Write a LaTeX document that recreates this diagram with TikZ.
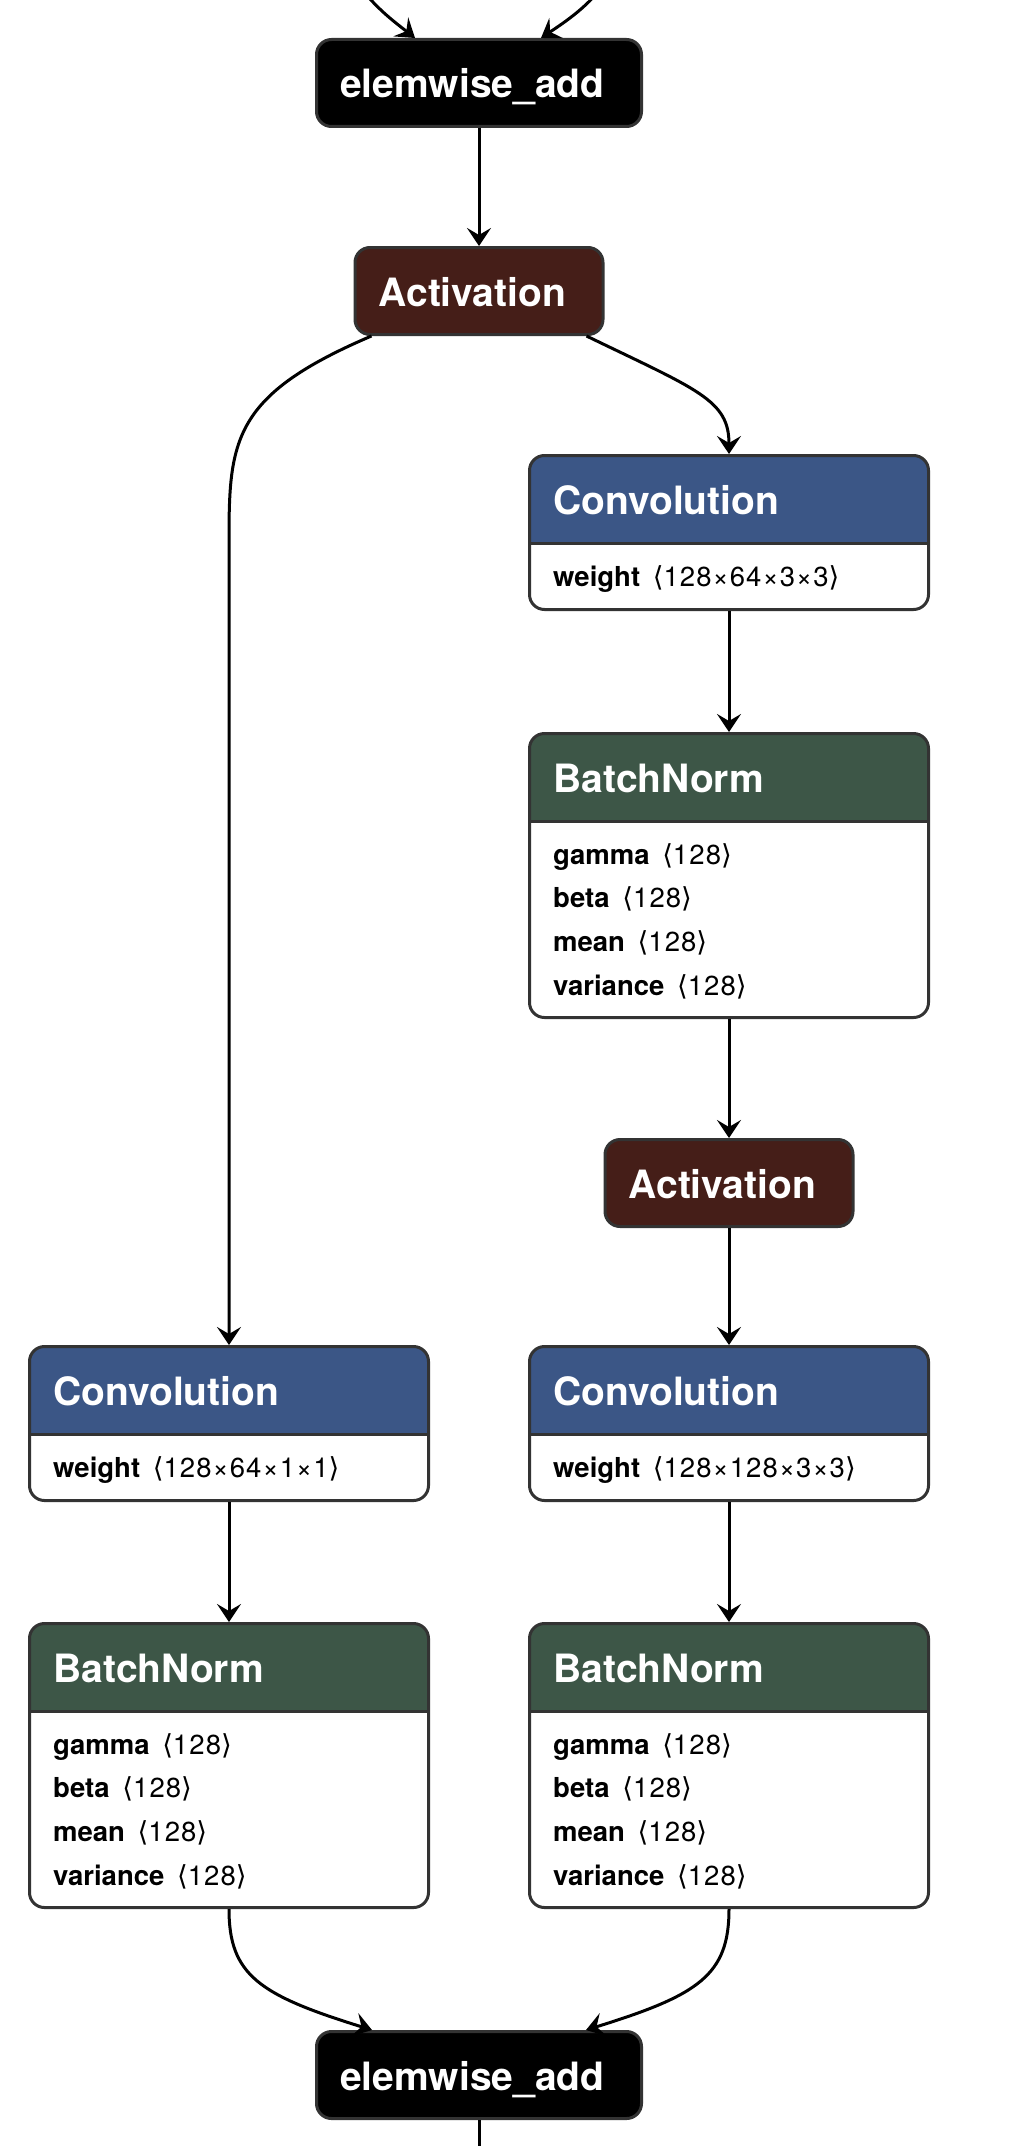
\documentclass[tikz,border=0pt]{standalone}
\usepackage{fontspec}
\setmainfont{TeX Gyre Heros}
\newfontfamily\symf{DejaVu Sans}
\newfontfamily\valf[LetterSpace=4]{TeX Gyre Heros}
\usetikzlibrary{arrows.meta}

\definecolor{convcol}{RGB}{59,86,134}
\definecolor{bncol}{RGB}{61,86,71}
\definecolor{actcol}{RGB}{69,30,24}
\definecolor{bordercol}{RGB}{51,51,51}

\newcommand{\dims}[1]{\hspace{5pt}{\symf ⟨}{\valf #1}{\symf ⟩}}

\begin{document}
\begin{tikzpicture}[x=1pt,y=-1pt,
	edge/.style={line width=3pt,-{Stealth[length=18pt,width=24pt,inset=7pt]}},
	op/.style={draw=bordercol,line width=3pt,rounded corners=15pt,fill=#1,minimum height=87pt,anchor=north,inner sep=0pt},
	layer/.style={draw=bordercol,line width=3pt,rounded corners=15pt,fill=white,minimum width=399pt,anchor=north,inner sep=0pt,
		path picture={\fill[#1,sharp corners] (path picture bounding box.north west) rectangle ([yshift=-87.5pt]path picture bounding box.north east);
			\draw[bordercol,line width=3pt,sharp corners] ([yshift=-87.5pt]path picture bounding box.north west) -- ([yshift=-87.5pt]path picture bounding box.north east);}},
	title/.style={anchor=base west,text=white,font=\fontsize{39}{47}\selectfont\bfseries,inner sep=0pt},
	attr/.style={anchor=base west,font=\fontsize{27.5}{33}\selectfont,inner sep=0pt}]
	\useasboundingbox (0,0) rectangle (1020,2146);
	% blocks
	\node[op=black, minimum width=325pt] (add1) at (479,38) {};
	\node[op=actcol, minimum width=248pt] (act1) at (479,246) {};
	\node[layer=convcol, minimum height=154pt] (conv1) at (729,454) {};
	\node[layer=bncol, minimum height=284pt] (bn1) at (729,732) {};
	\node[op=actcol, minimum width=248pt] (act2) at (729,1138) {};
	\node[layer=convcol, minimum height=154pt] (convL) at (229,1345) {};
	\node[layer=convcol, minimum height=154pt] (convR) at (729,1345) {};
	\node[layer=bncol, minimum height=284pt] (bnL) at (229,1622) {};
	\node[layer=bncol, minimum height=284pt] (bnR) at (729,1622) {};
	\node[op=black, minimum width=325pt] (add2) at (479,2030) {};
	% titles
	\foreach \n/\t in {add1/elemwise\_add, act1/Activation, conv1/Convolution, bn1/BatchNorm, act2/Activation,
		convL/Convolution, convR/Convolution, bnL/BatchNorm, bnR/BatchNorm, add2/elemwise\_add}
		\node[title] at ([xshift=25pt,yshift=-60pt]\n.north west) {\t};
	% attributes
	\node[attr] at ([xshift=25pt,yshift=-132pt]conv1.north west) {\textbf{weight}\ \dims{128×64×3×3}};
	\node[attr] at ([xshift=25pt,yshift=-132pt]convL.north west) {\textbf{weight}\ \dims{128×64×1×1}};
	\node[attr] at ([xshift=25pt,yshift=-132pt]convR.north west) {\textbf{weight}\ \dims{128×128×3×3}};
	\foreach \b in {bn1,bnL,bnR}
		\foreach \nm [count=\i] in {gamma,beta,mean,variance}
			\node[attr] at ([xshift=25pt,yshift={-132pt-43.7pt*(\i-1)}]\b.north west) {\textbf{\nm}\ \dims{128}};
	% connectors
	\coordinate (inL) at (350,-30);
	\coordinate (inR) at (612,-30);
	\coordinate (out) at (479,2170);
	\draw[edge] (inL) .. controls (365,0) and (392,20) .. ([xshift=100pt]add1.north west);
	\draw[edge] (inR) .. controls (598,0) and (568,20) .. ([xshift=-102pt]add1.north east);
	\draw[edge] (add1) -- (act1);
	\draw[edge] ([xshift=18pt]act1.south west) .. controls (233,395) and (229,440) .. (229,540) -- (convL);
	\draw[edge] ([xshift=-18pt]act1.south east) .. controls (698,390) and (729,400) .. (conv1);
	\draw[edge] (conv1) -- (bn1);
	\draw[edge] (bn1) -- (act2);
	\draw[edge] (act2) -- (convR);
	\draw[edge] (convL) -- (bnL);
	\draw[edge] (convR) -- (bnR);
	\draw[edge] (bnL) .. controls (229,1975) and (259,1995) .. ([xshift=57pt]add2.north west);
	\draw[edge] (bnR) .. controls (729,1975) and (699,1995) .. ([xshift=-57pt]add2.north east);
	\draw[line width=3pt] (add2) -- (out);
\end{tikzpicture}
\end{document}
